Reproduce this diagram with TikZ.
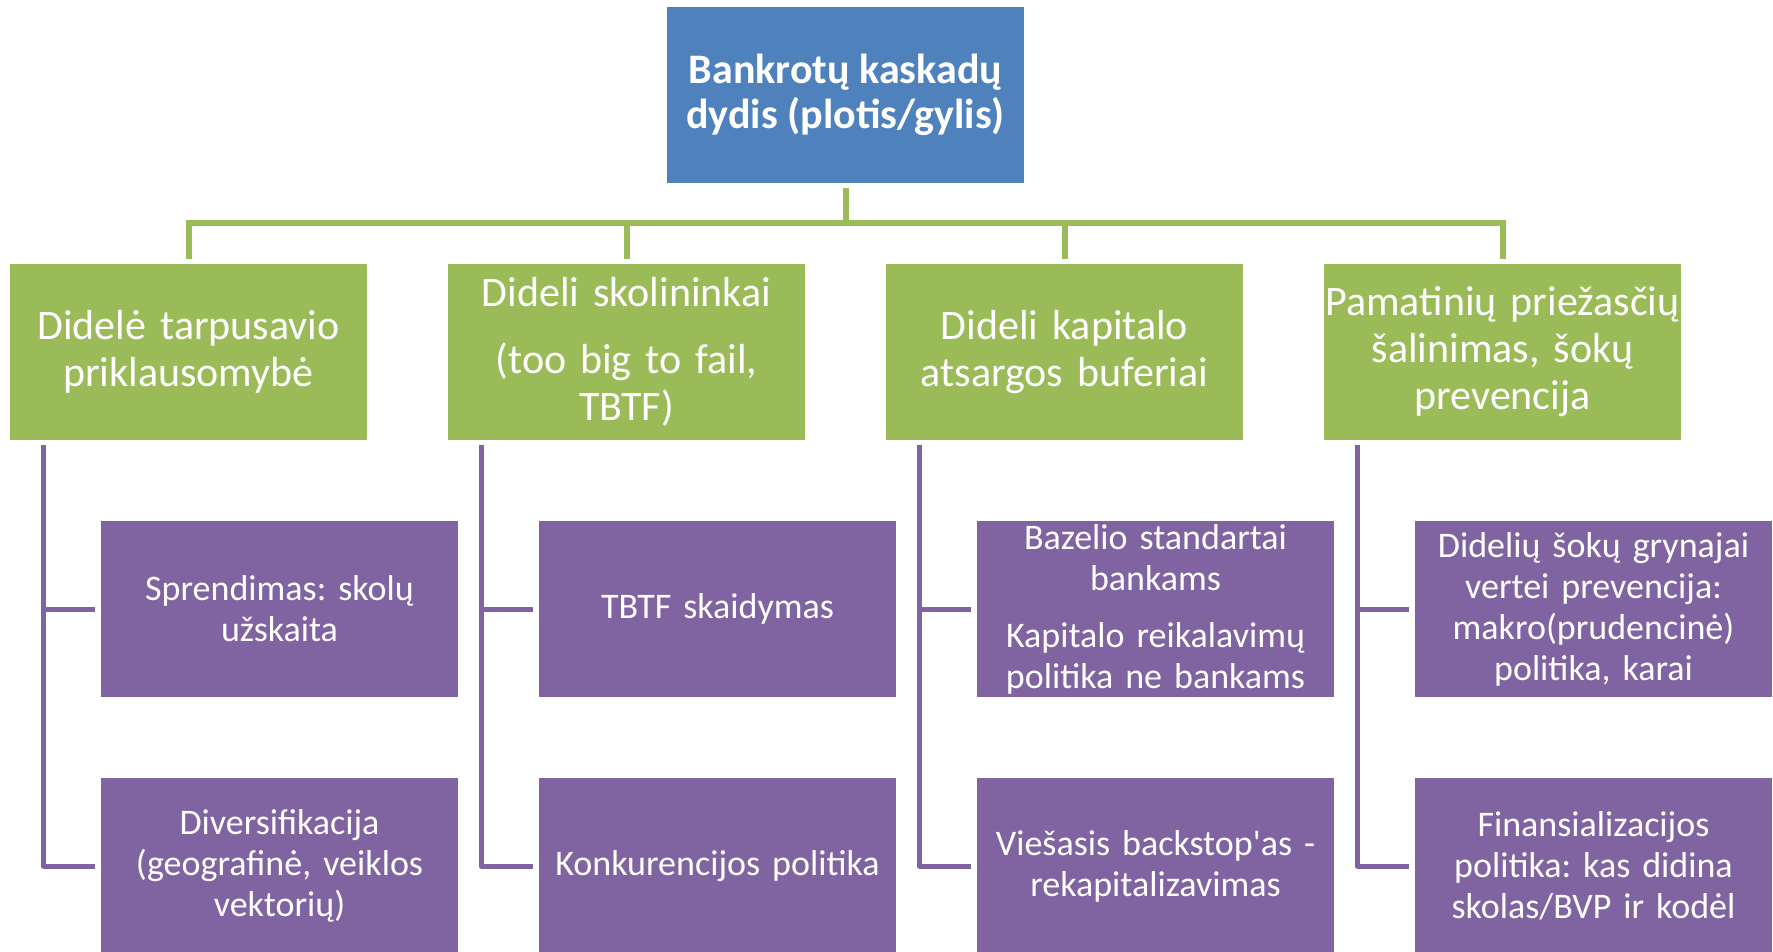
\documentclass[tikz,border=0pt]{standalone}
\usepackage{fontspec}
\setmainfont{Carlito}
\frenchspacing
\definecolor{topblue}{HTML}{4F81BD}
\definecolor{catgreen}{HTML}{9BBB59}
\definecolor{subpurple}{HTML}{8064A2}

\begin{document}
\begin{tikzpicture}
[x=0.5pt,y=-0.5pt]
\tikzset{topbox/.style={fill=topblue,text=white,minimum width=178.5pt,minimum height=88pt,inner sep=0pt,align=center,font=\fontsize{21}{22.5}\selectfont\bfseries},
catbox/.style={fill=catgreen,text=white,minimum width=178.5pt,minimum height=88pt,inner sep=0pt,text width=178pt,align=center,font=\fontsize{21}{23.5}\selectfont},
subbox/.style={fill=subpurple,text=white,minimum width=178.5pt,minimum height=88pt,inner sep=0pt,text width=177pt,align=center,font=\fontsize{18}{20.5}\selectfont},
greenline/.style={draw=catgreen,line width=3pt},
purpleline/.style={draw=subpurple,line width=2.5pt,line join=round}}
\useasboundingbox (0,0) rectangle (1773,952);

\node [topbox] (top) at (845.5,95) {Bankrotų kaskadų\\dydis (plotis/gylis)};
\coordinate (hub) at (845.5,223);

\node [catbox] (g1) at (188.5,352) {Didelė tarpusavio\\priklausomybė};
\node [catbox] (g2) at (626.5,352) {Dideli skolininkai\\[10pt](too big to fail,\\TBTF)};
\node [catbox] (g3) at (1064.5,352) {Dideli kapitalo\\atsargos buferiai};
\node [catbox] (g4) at (1502.5,352) {Pamatinių priežasčių\\šalinimas, šokų\\prevencija};

\node [subbox] (p11) at (279.5,609) {Sprendimas: skolų\\užskaita};
\node [subbox] (p12) at (279.5,866) {Diversifikacija\\(geografinė, veiklos\\vektorių)};
\node [subbox] (p21) at (717.5,609) {TBTF skaidymas};
\node [subbox] (p22) at (717.5,866) {Konkurencijos politika};
\node [subbox] (p31) at (1155.5,609) {Bazelio standartai\\bankams\\[8pt]Kapitalo reikalavimų\\politika ne bankams};
\node [subbox] (p32) at (1155.5,866) {Viešasis backstop\textquotesingle as -\\rekapitalizavimas};
\node [subbox] (p41) at (1593.5,609) {Didelių šokų grynajai\\vertei prevencija:\\makro(prudencinė)\\politika, karai};
\node [subbox] (p42) at (1593.5,866) {Finansializacijos\\politika: kas didina\\skolas/BVP ir kodėl};

\draw [greenline,shorten <=2.5pt] (top.south) -- (hub);
\foreach \g in {g1,g2,g3,g4}
	\draw [greenline,shorten <=2.5pt] (\g.north) |- (hub);

\foreach \g/\a/\b in {g1/p11/p12,g2/p21/p22,g3/p31/p32,g4/p41/p42}{
	\coordinate (s\g) at ([xshift=17pt]\g.south west);
	\draw [purpleline,shorten <=2.5pt,shorten >=3pt] (s\g) |- (\b.west);
	\draw [purpleline,shorten >=3pt] (s\g |- \a.west) -- (\a.west);
}

\end{tikzpicture}
\end{document}
